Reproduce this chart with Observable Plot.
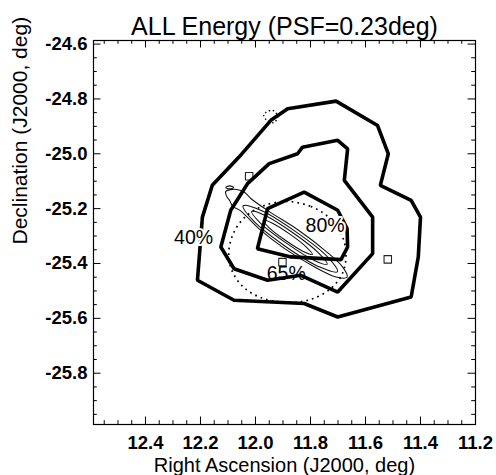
<!DOCTYPE html>
<html><head><meta charset="utf-8">
<script src="https://cdn.jsdelivr.net/npm/d3@7"></script>
<script src="https://cdn.jsdelivr.net/npm/@observablehq/plot@0.6"></script>
<style>html,body{margin:0;padding:0;background:#fff;}</style>
</head><body><div id="chart"></div>
<script>
const title = "ALL Energy (PSF=0.23deg)";
const xTitle = "Right Ascension (J2000, deg)";
const yTitle = "Declination (J2000, deg)";
const xDomain = [12.589, 11.2];
const yDomain = [-25.987, -24.587];
const xMajor = [12.4, 12.2, 12.0, 11.8, 11.6, 11.4, 11.2];
const xMinor = [12.55, 12.5, 12.45, 12.35, 12.3, 12.25, 12.15, 12.1, 12.05, 11.95, 11.9, 11.85, 11.75, 11.7, 11.65, 11.55, 11.5, 11.45, 11.35, 11.3, 11.25];
const yMajor = [-24.6, -24.8, -25.0, -25.2, -25.4, -25.6, -25.8];
const yMinor = [-24.65, -24.7, -24.75, -24.85, -24.9, -24.95, -25.05, -25.1, -25.15, -25.25, -25.3, -25.35, -25.45, -25.5, -25.55, -25.65, -25.7, -25.75, -25.85, -25.9, -25.95];

// thick confidence contours [RA, Dec]
const contour40 = [[11.707,-24.808],[11.556,-24.897],[11.517,-25.000],[11.546,-25.115],[11.434,-25.170],[11.400,-25.231],[11.408,-25.376],[11.434,-25.522],[11.701,-25.595],[11.823,-25.546],[12.078,-25.534],[12.211,-25.461],[12.193,-25.231],[12.157,-25.115],[12.060,-25.012],[11.944,-24.878],[11.883,-24.836]];
const contour65 = [[11.829,-24.976],[11.701,-24.951],[11.665,-24.982],[11.677,-25.097],[11.574,-25.231],[11.574,-25.364],[11.701,-25.504],[11.835,-25.443],[11.956,-25.461],[12.078,-25.419],[12.126,-25.340],[12.090,-25.206],[12.029,-25.109],[11.950,-25.036],[11.847,-25.000]];
const contour80 = [[11.956,-25.200],[11.823,-25.140],[11.701,-25.206],[11.667,-25.273],[11.665,-25.340],[11.689,-25.386],[11.871,-25.376],[11.993,-25.346]];
const labelText = ["40%", "80%", "65%"];
const labelRA = [12.225, 11.747, 11.888];
const labelDec = [-25.305, -25.261, -25.436];

// dotted PSF circle
const psfCircle = [[11.882,-25.174],[11.799,-25.192],[11.733,-25.232],[11.689,-25.290],[11.671,-25.359],[11.682,-25.432],[11.726,-25.491],[11.799,-25.531],[11.882,-25.542],[11.973,-25.527],[12.043,-25.487],[12.086,-25.425],[12.097,-25.359],[12.079,-25.287],[12.035,-25.228],[11.966,-25.188]];
const dottedBlob = [[11.962,-24.849],[11.937,-24.842],[11.919,-24.864],[11.933,-24.886],[11.959,-24.878],[11.970,-24.860]];

// thin map contours
const thin1 = [[12.108,-25.137],[12.068,-25.130],[12.039,-25.141],[12.017,-25.163],[11.948,-25.212],[11.846,-25.277],[11.748,-25.352],[11.682,-25.414],[11.667,-25.450],[11.707,-25.449],[11.788,-25.411],[11.894,-25.346],[11.988,-25.273],[12.054,-25.208],[12.083,-25.192],[12.094,-25.170],[12.105,-25.155]];
const thin2 = [[11.702,-25.430],[11.764,-25.414],[11.892,-25.337],[12.008,-25.244],[12.045,-25.190],[11.981,-25.206],[11.854,-25.284],[11.738,-25.376]];
const thin3 = [[11.739,-25.403],[11.788,-25.388],[11.889,-25.325],[11.983,-25.252],[12.014,-25.210],[11.965,-25.225],[11.864,-25.288],[11.771,-25.361]];
const thin4 = [[11.793,-25.367],[11.824,-25.357],[11.890,-25.316],[11.951,-25.269],[11.972,-25.242],[11.940,-25.252],[11.875,-25.293],[11.814,-25.341]];
const thinTiny = [[12.108,-25.123],[12.094,-25.117],[12.079,-25.123],[12.094,-25.128]];
const squares = [[12.023,-25.082],[11.519,-25.385],[11.902,-25.395]];

const W = 496, H = 475, mL = 93, mR = 21, mT = 40, mB = 51;
const fw = W - mL - mR, fh = H - mT - mB;
const font = '"Liberation Sans", Arial, Helvetica, sans-serif';
const majorLen = 7.5, minorLen = 3.8;

function xTicks(vals, len) {
  return [
    Plot.tickX(vals, {x: d => d, insetTop: fh - len, stroke: "black"}),
    Plot.tickX(vals, {x: d => d, insetBottom: fh - len, stroke: "black"})
  ];
}
function yTicks(vals, len) {
  return [
    Plot.tickY(vals, {y: d => d, insetRight: fw - len, stroke: "black"}),
    Plot.tickY(vals, {y: d => d, insetLeft: fw - len, stroke: "black"})
  ];
}
const thick = (data) => Plot.line(data, {x: d => d[0], y: d => d[1], curve: "linear-closed", stroke: "black", strokeWidth: 3.6, strokeLinejoin: "miter"});
const thin = (data) => Plot.line(data, {x: d => d[0], y: d => d[1], curve: "catmull-rom-closed", stroke: "#111", strokeWidth: 1.05});

const chart = Plot.plot({
  width: W, height: H,
  marginLeft: mL, marginRight: mR, marginTop: mT, marginBottom: mB,
  x: {domain: xDomain, axis: null},
  y: {domain: yDomain, axis: null},
  style: {fontFamily: font, background: "white", color: "black"},
  marks: [
    thin(thin1), thin(thin2), thin(thin3), thin(thin4), thin(thinTiny),
    Plot.dot(squares, {x: d => d[0], y: d => d[1], symbol: "square", r: 4.2, stroke: "#222", strokeWidth: 1.1, strokeLinejoin: "round", fill: "none"}),
    Plot.line(psfCircle, {x: d => d[0], y: d => d[1], curve: "catmull-rom-closed", stroke: "black", strokeWidth: 1.7, strokeDasharray: "1.7,4.1", strokeLinecap: "butt"}),
    Plot.line(dottedBlob, {x: d => d[0], y: d => d[1], curve: "catmull-rom-closed", stroke: "black", strokeWidth: 1.4, strokeDasharray: "1.4,2.6", strokeLinecap: "butt"}),
    Plot.text([2], {x: i => labelRA[i], y: i => labelDec[i], text: i => labelText[i], fontSize: 19.5, fill: "black"}),
    thick(contour40), thick(contour65), thick(contour80),
    Plot.text([0, 1], {x: i => labelRA[i], y: i => labelDec[i], text: i => labelText[i], fontSize: 19.5, fill: "black", stroke: "white", strokeWidth: 4}),
    ...xTicks(xMajor, majorLen), ...xTicks(xMinor, minorLen),
    ...yTicks(yMajor, majorLen), ...yTicks(yMinor, minorLen),
    Plot.frame({stroke: "black", strokeWidth: 1.2}),
    Plot.text(xMajor, {x: d => d, frameAnchor: "bottom", dy: 19, text: d => d.toFixed(1), fontSize: 18.5, fontWeight: "bold", lineAnchor: "middle"}),
    Plot.text(yMajor, {y: d => d, frameAnchor: "left", dx: -6, textAnchor: "end", text: d => d.toFixed(1), fontSize: 18.5, fontWeight: "bold", lineAnchor: "middle"}),
    Plot.text([xTitle], {frameAnchor: "bottom", dy: 41, text: d => d, fontSize: 20, lineAnchor: "middle"}),
    Plot.text([yTitle], {frameAnchor: "left", dx: -73, dy: 12, rotate: -90, text: d => d, fontSize: 21, lineAnchor: "middle"}),
    Plot.text([title], {frameAnchor: "top", dy: -14, text: d => d, fontSize: 25, lineAnchor: "middle"})
  ]
});
document.getElementById("chart").appendChild(chart);
</script>
</body></html>
